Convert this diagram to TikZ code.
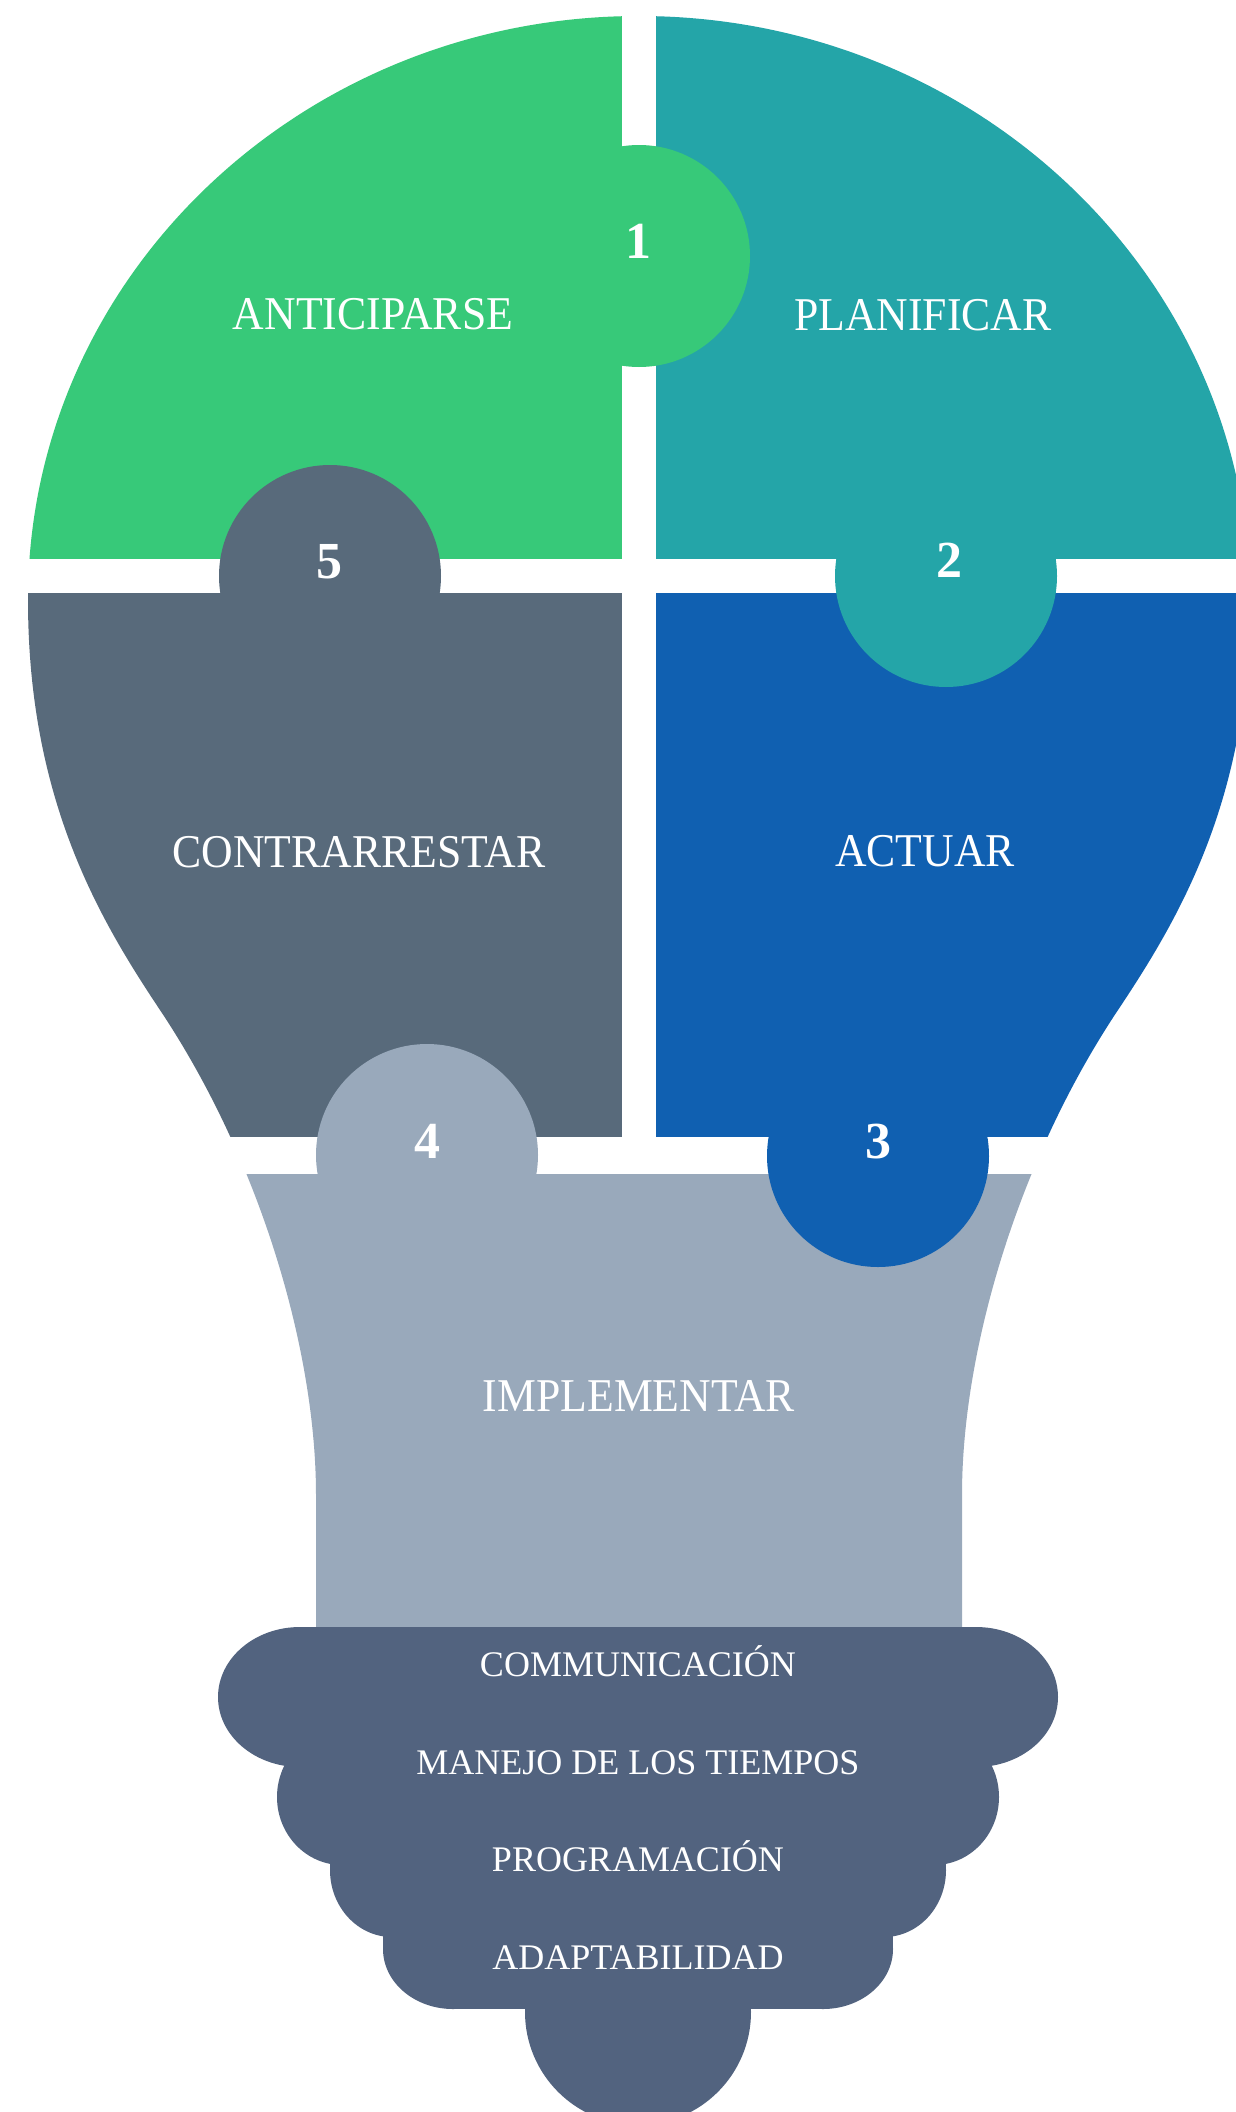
\documentclass[tikz,border=0pt]{standalone}
\usepackage{fontspec}
\usepackage{graphicx}
\setmainfont{Liberation Serif}
\definecolor{cgreen}{HTML}{37C979}
\definecolor{cteal}{HTML}{24A5A8}
\definecolor{cgray}{HTML}{586A7B}
\definecolor{cblue}{HTML}{1060B1}
\definecolor{clight}{HTML}{99A9BB}
\definecolor{cdark}{HTML}{52637F}
\newcommand{\narrowtxt}[1]{\scalebox{0.93}[1]{#1}}
\begin{document}
\begin{tikzpicture}[x=1pt,y=-1pt,
  lbl/.style={text=white, inner sep=0pt, anchor=base, font=\fontsize{47}{52}\selectfont},
  sublbl/.style={text=white, inner sep=0pt, anchor=base, font=\fontsize{36}{42}\selectfont},
  numlbl/.style={text=white, inner sep=0pt, anchor=center, font=\fontsize{52}{60}\selectfont\bfseries}]
\fill[white] (0,0) rectangle (1235,2112);
\useasboundingbox (0,0) rectangle (1235,2112);
% bulb body
\begin{scope}
\clip (639,16) arc[start angle=270, end angle=180, x radius=611, y radius=584]
  .. controls (28,800) and (100,920) .. (160,1010)
  .. controls (260,1160) and (316,1350) .. (316,1495)
  -- (316,1660) -- (962,1660) -- (962,1495)
  .. controls (962,1350) and (1018,1160) .. (1118,1010)
  .. controls (1178,920) and (1250,800) .. (1250,600)
  arc[start angle=0, end angle=-90, x radius=611, y radius=584] -- cycle;
\fill[cgreen] (0,0) rectangle (639,576);
\fill[cteal] (639,0) rectangle (1300,576);
\fill[cgray] (0,576) rectangle (639,1155);
\fill[cblue] (639,576) rectangle (1300,1155);
\fill[clight] (0,1155) rectangle (1300,1700);
\end{scope}
% gaps
\fill[white] (622,0) rectangle (656,1137);
\fill[white] (0,559) rectangle (1300,593);
\fill[white] (0,1137) rectangle (1300,1174);
% puzzle knobs
\fill[cgreen] (639,256) circle[radius=111];
\fill[cgray] (330,576) circle[radius=111];
\fill[cteal] (946,576) circle[radius=111];
\fill[clight] (427,1155) circle[radius=111];
\fill[cblue] (878,1156) circle[radius=111];
% base
\fill[cdark] (300,1627) rectangle (976,1767);
\fill[cdark] (300,1697) ellipse[x radius=82, y radius=70];
\fill[cdark] (976,1697) ellipse[x radius=82, y radius=70];
\fill[cdark] (342,1729) rectangle (934,1865);
\fill[cdark] (342,1797) ellipse[x radius=65, y radius=68];
\fill[cdark] (934,1797) ellipse[x radius=65, y radius=68];
\fill[cdark] (392,1803) rectangle (884,1937);
\fill[cdark] (392,1870) ellipse[x radius=62, y radius=67];
\fill[cdark] (884,1870) ellipse[x radius=62, y radius=67];
\fill[cdark] (453,1889) rectangle (823,2009);
\fill[cdark] (383,1889) rectangle (893,1949);
\fill[cdark] (453,1949) ellipse[x radius=70, y radius=60];
\fill[cdark] (823,1949) ellipse[x radius=70, y radius=60];
\fill[cdark] (638,2012) circle[radius=113];
% texts
\node[lbl] (anticiparse) at (373,329) {\narrowtxt{ANTICIPARSE}};
\node[lbl] (planificar) at (923,330) {\narrowtxt{PLANIFICAR}};
\node[lbl] (contrarrestar) at (359,867) {\narrowtxt{CONTRARRESTAR}};
\node[lbl] (actuar) at (925,866) {\narrowtxt{ACTUAR}};
\node[lbl] (implementar) at (639,1411) {\narrowtxt{IMPLEMENTAR}};
\node[sublbl] (comm) at (638,1676) {COMMUNICACIÓN};
\node[sublbl] (manejo) at (638,1774) {MANEJO DE LOS TIEMPOS};
\node[sublbl] (prog) at (638,1871) {PROGRAMACIÓN};
\node[sublbl] (adapt) at (638,1969) {ADAPTABILIDAD};
\node[numlbl] (n1) at (638,241) {1};
\node[numlbl] (n2) at (949,560) {2};
\node[numlbl] (n3) at (878,1142) {3};
\node[numlbl] (n4) at (427,1141) {4};
\node[numlbl] (n5) at (329,562) {5};
\end{tikzpicture}
\end{document}
